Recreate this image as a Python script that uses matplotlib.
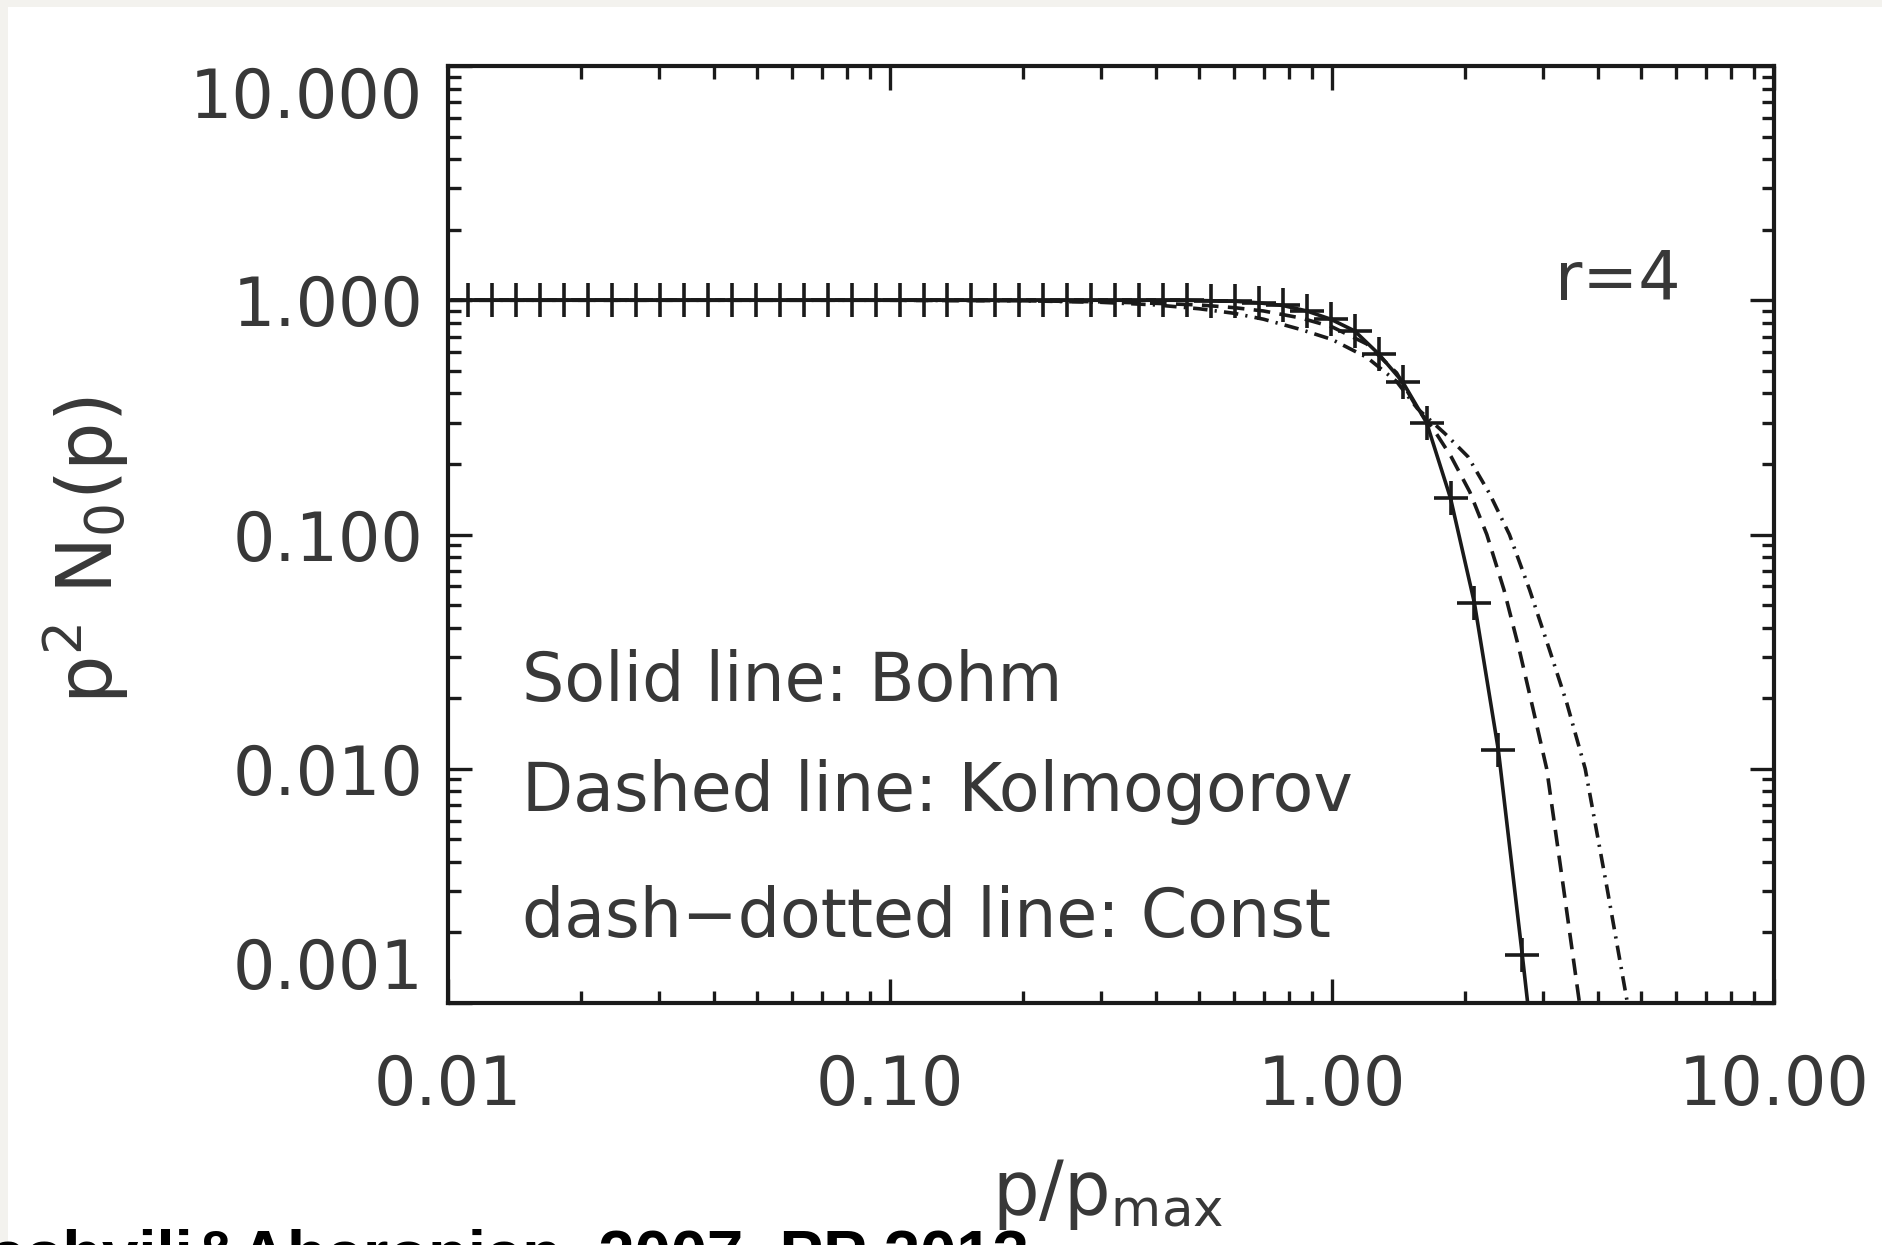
import matplotlib
matplotlib.use("Agg")
import matplotlib.pyplot as plt
from matplotlib.ticker import LogLocator, NullFormatter, FixedLocator, FixedFormatter
from matplotlib.patches import Rectangle

# Bohm (solid line, + symbols)
bohm_p = [0.01112, 0.01259, 0.01426, 0.01617, 0.01832, 0.02075, 0.02350, 0.02662,
          0.03017, 0.03418, 0.03873, 0.04387, 0.04970, 0.05631, 0.06380, 0.07228,
          0.08188, 0.09277, 0.1051, 0.1191, 0.1349, 0.1528, 0.1731, 0.1963,
          0.2223, 0.2518, 0.2852, 0.3231, 0.3661, 0.4147, 0.4698, 0.5322,
          0.6030, 0.6832, 0.7739, 0.8768, 0.9933, 1.125, 1.275, 1.445,
          1.637, 1.854, 2.100, 2.379, 2.695, 3.05]
bohm_n = [1.0, 1.0, 1.0, 1.0, 1.0, 1.0, 1.0, 1.0,
          1.0, 1.0, 1.0, 1.0, 1.0, 1.0, 1.0, 1.0,
          1.0, 1.0, 1.0, 1.0, 1.0, 1.0, 1.0, 1.0,
          1.0, 1.0, 1.0, 1.0, 1.0, 1.0, 1.0, 0.995,
          0.99, 0.975, 0.95, 0.90, 0.83, 0.74, 0.59, 0.448,
          0.30, 0.143, 0.051, 0.012, 0.0016, 0.0002]

# Kolmogorov (dashed)
kolm_p = [0.01, 0.1, 0.2, 0.3, 0.4, 0.5, 0.6, 0.7, 0.85, 1.0, 1.2, 1.4, 1.56,
          1.7, 1.86, 2.05, 2.24, 2.45, 2.65, 2.85, 3.06, 3.34, 3.63, 3.9]
kolm_n = [1.0, 1.0, 0.995, 0.985, 0.97, 0.955, 0.93, 0.90, 0.84, 0.77, 0.65, 0.49, 0.345,
          0.28, 0.215, 0.152, 0.10, 0.058, 0.0325, 0.018, 0.010, 0.0031, 0.001, 0.0003]

# Const (dash-dotted)
const_p = [0.01, 0.1, 0.2, 0.3, 0.4, 0.5, 0.6, 0.7, 0.85, 1.0, 1.2, 1.4, 1.56,
           1.8, 2.03, 2.27, 2.52, 2.8, 3.10, 3.4, 3.74, 4.19, 4.66, 5.0]
const_n = [1.0, 1.0, 0.995, 0.98, 0.955, 0.92, 0.88, 0.83, 0.75, 0.68, 0.57, 0.45, 0.345,
           0.27, 0.215, 0.15, 0.10, 0.058, 0.0325, 0.019, 0.010, 0.0031, 0.001, 0.0004]

yticks = [0.001, 0.01, 0.1, 1.0, 10.0]
ylabels = ['0.001', '0.010', '0.100', '1.000', '10.000']
xticks = [0.01, 0.1, 1.0, 10.0]
xlabels = ['0.01', '0.10', '1.00', '10.00']

plt.rcParams['font.family'] = 'DejaVu Sans'
plt.rcParams['mathtext.fontset'] = 'dejavusans'

W, H = 1883, 1245
fig = plt.figure(figsize=(W / 100, H / 100), dpi=100, facecolor='#f3f2ee')
fig.patches.append(Rectangle((8 / W, 0), 1, 1 - 7 / H, transform=fig.transFigure,
                             facecolor='white', edgecolor='none', zorder=-5))

ax = fig.add_axes([448 / W, 1 - 1003 / H, (1774 - 448) / W, (1003 - 66) / H])
ax.set_facecolor('white')

ink = '#1a1a1a'
txt = '#383838'
ax.plot(bohm_p, bohm_n, '-', color=ink, lw=2.6, marker='+', ms=24, mew=2.6)
ax.plot(kolm_p, kolm_n, color=ink, lw=2.6, dashes=(4.6, 2.6))
ax.plot(const_p, const_n, color=ink, lw=2.6, dashes=(4, 2, 0.6, 2))

ax.set_xscale('log')
ax.set_yscale('log')
ax.set_xlim(0.01, 10)
ax.set_ylim(0.001, 10)

ax.xaxis.set_major_locator(FixedLocator(xticks))
ax.xaxis.set_major_formatter(FixedFormatter(xlabels))
ax.yaxis.set_major_locator(FixedLocator(yticks))
ax.yaxis.set_major_formatter(FixedFormatter(ylabels))
ax.xaxis.set_minor_locator(LogLocator(base=10, subs=range(2, 10)))
ax.yaxis.set_minor_locator(LogLocator(base=10, subs=range(2, 10)))
ax.xaxis.set_minor_formatter(NullFormatter())
ax.yaxis.set_minor_formatter(NullFormatter())

ax.tick_params(which='both', direction='in', top=True, right=True, color=ink, width=2.4)
ax.tick_params(which='major', length=17)
ax.tick_params(which='minor', length=9)
ax.tick_params(axis='x', which='major', pad=36, labelsize=48, labelcolor=txt)
ax.tick_params(axis='y', which='major', pad=18, labelsize=48, labelcolor=txt)
for s in ax.spines.values():
    s.set_linewidth(3.0)
    s.set_color(ink)

ylabs = ax.get_yticklabels()
ylabs[-1].set_va('top')
ylabs[0].set_va('bottom')

fig.text(1108 / W, 1 - 1195 / H, r'$\mathrm{p/p_{max}}$', ha='center', va='center',
         fontsize=53, color=txt)
fig.text(86 / W, 1 - 550 / H, r'$\mathrm{p^2\ N_0(p)}$', ha='center', va='center',
         rotation=90, fontsize=55, color=txt)

fig.text(1681 / W, 1 - 300 / H, 'r=4', ha='right', va='baseline', fontsize=48, color=txt)
fig.text(522 / W, 1 - 701 / H, 'Solid line: Bohm', ha='left', va='baseline',
         fontsize=48, color=txt)
fig.text(522 / W, 1 - 811 / H, 'Dashed line: Kolmogorov', ha='left', va='baseline',
         fontsize=48, color=txt)
fig.text(522 / W, 1 - 937 / H, 'dash\u2212dotted line: Const', ha='left', va='baseline',
         fontsize=48, color=txt)

fig.text(-0.088, 1 - 1229 / H, 'Zirakashvili&Aharonian, 2007, PP 2013', ha='left', va='top',
         fontsize=47, fontweight='bold', family='Liberation Sans', color='black')

fig.savefig('out.png', dpi=100, facecolor=fig.get_facecolor())
